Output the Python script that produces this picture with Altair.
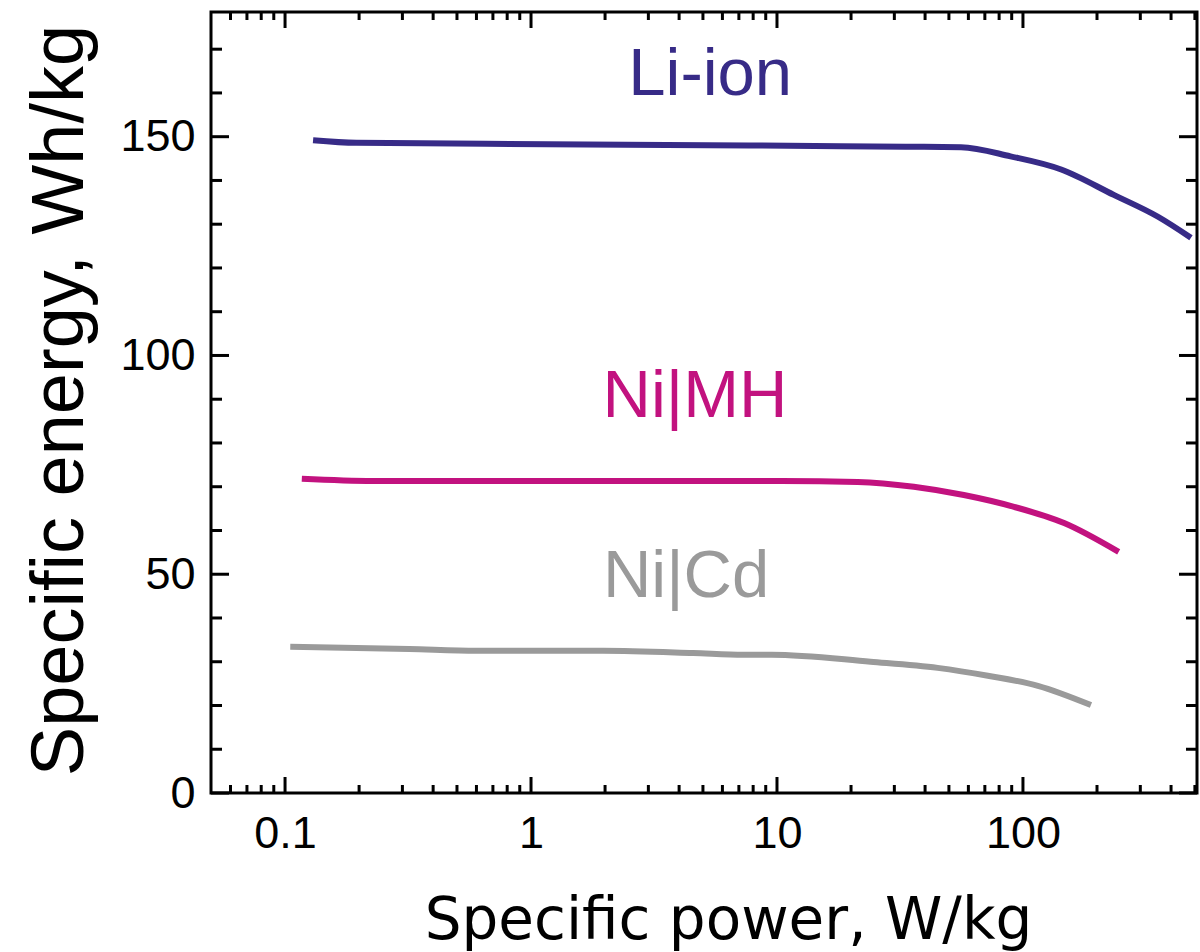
import altair as alt
import pandas as pd

# ---- data ----
series = ["Li-ion", "Ni|MH", "Ni|Cd"]
colors = ["#372b87", "#c2127f", "#9a9a9a"]

li_x = [0.13, 0.195, 1.17, 7.7, 33.4, 56, 89, 143, 234, 354, 482]
li_y = [149.2, 148.6, 148.3, 148.0, 147.7, 147.6, 145.5, 142.5, 136.7, 131.7, 126.9]

mh_x = [0.117, 0.228, 10.4, 21.3, 36, 57.5, 92, 147, 245]
mh_y = [71.8, 71.3, 71.3, 71.1, 70.0, 68.1, 65.4, 61.7, 55.1]

cd_x = [0.105, 0.32, 0.60, 1.96, 4.56, 7.3, 9.5, 24, 45, 72, 115, 189]
cd_y = [33.4, 32.9, 32.5, 32.5, 32.0, 31.6, 31.6, 30.0, 28.6, 26.8, 24.5, 20.1]

label_text = ["Li-ion", "Ni|MH", "Ni|Cd"]
label_x = [5.35, 4.64, 4.27]
label_y = [159.6, 86.0, 44.8]

x_major = [0.1, 1, 10, 100]
x_minor = [0.06, 0.07, 0.08, 0.09,
           0.2, 0.3, 0.4, 0.5, 0.6, 0.7, 0.8, 0.9,
           2, 3, 4, 5, 6, 7, 8, 9,
           20, 30, 40, 50, 60, 70, 80, 90,
           200, 300, 400, 500]
y_major = [0, 50, 100, 150]
y_minor = [10, 20, 30, 40, 60, 70, 80, 90, 110, 120, 130, 140, 160, 170]

# ---- tables ----
rows = []
for name, xs, ys in [("Li-ion", li_x, li_y), ("Ni|MH", mh_x, mh_y), ("Ni|Cd", cd_x, cd_y)]:
    for i, (a, b) in enumerate(zip(xs, ys)):
        rows.append({"series": name, "power": a, "energy": b, "order": i})
lines_df = pd.DataFrame(rows)
labels_df = pd.DataFrame({"series": series, "label": label_text, "power": label_x, "energy": label_y})

W, H = 986, 781
xscale = alt.Scale(type="log", domain=[0.05, 510], nice=False)
yscale = alt.Scale(domain=[0, 178.5], nice=False, zero=False)
cscale = alt.Scale(domain=series, range=colors)

x_axis = alt.Axis(
    values=x_major, format="~g", ticks=False, domain=False, grid=False,
    labelFont="Liberation Sans", labelFontSize=45, labelColor="black", labelPadding=18,
    labelFlush=False,
    title="Specific power, W/kg", titleFont="DejaVu Sans", titleFontSize=58,
    titleFontWeight="normal", titleColor="black", titleX=517, titleY=145,
    titleBaseline="alphabetic", titleAlign="center",
)
y_axis = alt.Axis(
    values=y_major, ticks=False, domain=False, grid=False,
    labelFont="Liberation Sans", labelFontSize=45, labelColor="black", labelPadding=16,
    labelFlush=False,
    title="Specific energy, Wh/kg", titleFont="Liberation Sans", titleFontSize=74,
    titleFontWeight="normal", titleColor="black", titleAngle=270, titleX=-129, titleY=388,
    titleBaseline="alphabetic", titleAlign="center",
)

lines = alt.Chart(lines_df).mark_line(strokeWidth=6, strokeCap="butt", interpolate="monotone").encode(
    x=alt.X("power:Q", scale=xscale, axis=x_axis),
    y=alt.Y("energy:Q", scale=yscale, axis=y_axis),
    color=alt.Color("series:N", scale=cscale, legend=None),
    detail="series:N",
    order="order:Q",
)

labels = alt.Chart(labels_df).mark_text(
    font="Liberation Sans", fontSize=67, align="center", baseline="alphabetic"
).encode(
    x=alt.X("power:Q", scale=xscale),
    y=alt.Y("energy:Q", scale=yscale),
    text="label:N",
    color=alt.Color("series:N", scale=cscale, legend=None),
)

def xticks(vals, y0, y1):
    return alt.Chart(pd.DataFrame({"power": vals})).mark_rule(color="black", strokeWidth=3).encode(
        x=alt.X("power:Q", scale=xscale),
        y=alt.value(y0), y2=alt.value(y1),
    )

def yticks(vals, x0, x1):
    return alt.Chart(pd.DataFrame({"energy": vals})).mark_rule(color="black", strokeWidth=3).encode(
        y=alt.Y("energy:Q", scale=yscale),
        x=alt.value(x0), x2=alt.value(x1),
    )

ticks = [
    xticks(x_major, H, H - 16), xticks(x_minor, H, H - 8),
    xticks(x_major, 0, 16), xticks(x_minor, 0, 8),
    yticks(y_major, 0, 18), yticks(y_minor, 0, 11),
    yticks(y_major, W, W - 18), yticks(y_minor, W, W - 11),
]

chart = alt.layer(lines, labels, *ticks).properties(
    width=W, height=H,
    autosize=alt.AutoSizeParams(type="none"),
    padding={"left": 211, "top": 12, "right": 3, "bottom": 159},
    background="white",
).configure_view(stroke="black", strokeWidth=3)

chart.save("out.html", embed_options={"renderer": "svg", "actions": False})
